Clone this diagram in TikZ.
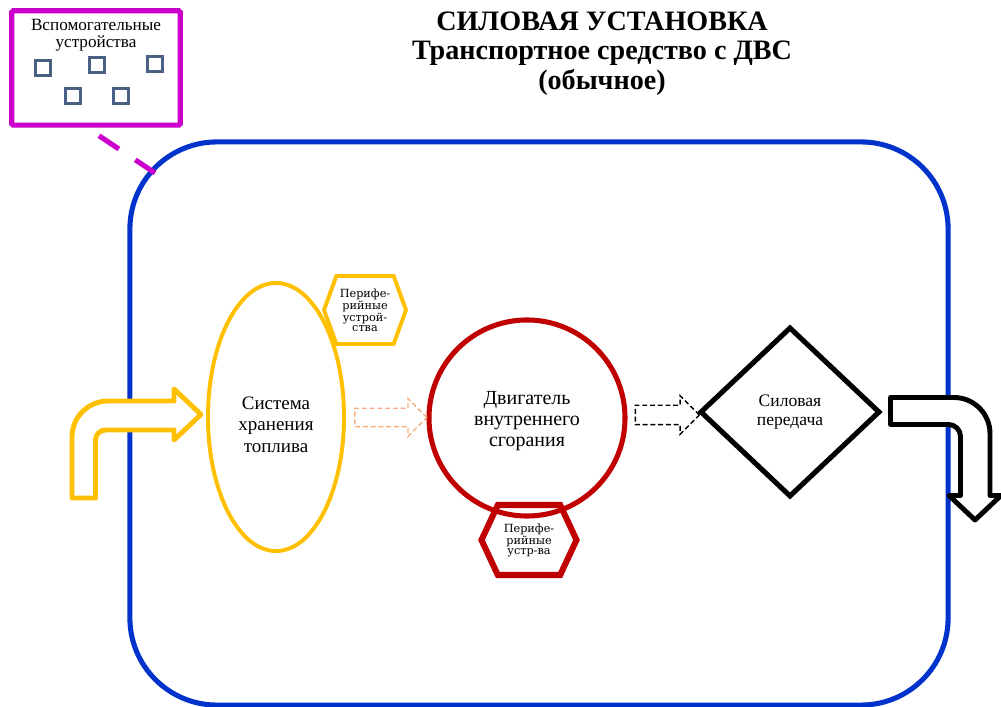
\documentclass[tikz,border=0pt]{standalone}
\usepackage{fontspec}
\setmainfont{Liberation Serif}
\newfontfamily\hexfont{DejaVu Serif}
\usetikzlibrary{shapes.geometric,shapes.arrows,shapes.symbols,calc}
\definecolor{pu_blue}{RGB}{0,51,204}
\definecolor{pu_magenta}{RGB}{204,0,204}
\definecolor{pu_yellow}{RGB}{255,192,0}
\definecolor{pu_red}{RGB}{192,0,0}
\definecolor{pu_orange}{RGB}{244,176,132}
\definecolor{pu_slate}{RGB}{74,96,132}
\tikzstyle{titletext}=[align=center,inner sep=0pt,anchor=north,
  font=\fontsize{20}{21}\selectfont\bfseries]
\tikzstyle{unitbox}=[rectangle,rounded corners=2.175cm,draw=pu_blue,
  line width=3.6pt,minimum width=20.45cm,minimum height=14.075cm]
\tikzstyle{auxbox}=[rectangle,rounded corners=1pt,draw=pu_magenta,
  line width=3.6pt,minimum width=4.21cm,minimum height=2.86cm]
\tikzstyle{auxtext}=[align=center,inner sep=0pt,
  font=\fontsize{12.2}{12}\selectfont]
\tikzstyle{sq}=[rectangle,draw=pu_slate,line width=1.8pt,
  minimum size=0.375cm,inner sep=0pt]
\tikzstyle{auxlink}=[draw=pu_magenta,line width=3.6pt,
  dash pattern=on 17pt off 14pt]
\tikzstyle{fuelnode}=[ellipse,draw=pu_yellow,line width=2.8pt,
  minimum width=3.4cm,minimum height=6.7cm,align=center,
  font=\fontsize{13.5}{15}\selectfont]
\tikzstyle{icenode}=[circle,draw=pu_red,line width=3.6pt,
  minimum size=4.9cm,align=center,font=\fontsize{14.2}{15}\selectfont]
\tikzstyle{transnode}=[diamond,draw=black,line width=3.6pt,
  minimum width=4.5cm,minimum height=4.25cm,align=center,
  font=\fontsize{12.5}{13.5}\selectfont]
\tikzstyle{perhex}=[signal,signal to=east and west,fill=white,
  inner sep=0pt,align=center,font=\hexfont\fontsize{8}{7}\selectfont]
\tikzstyle{flowarrow}=[single arrow,line width=1pt,inner xsep=0pt,
  dash pattern=on 3.5pt off 2pt]
\tikzstyle{inarrow}=[draw=pu_yellow,fill=white,line width=3.5pt,
  line join=round]
\tikzstyle{outarrow}=[draw=black,fill=white,line width=3.5pt,
  line join=round]

\begin{document}
\begin{tikzpicture}[x=0.025cm,y=-0.025cm]
  \useasboundingbox (0,0) rectangle (1001,707);
  \node[titletext] (title) at (602,11.5)
    {СИЛОВАЯ УСТАНОВКА\\Транспортное средство с ДВС\\(обычное)};

  % power unit frame
  \node[unitbox] (unit) at (539,423.5) {};

  % auxiliary devices
  \node[auxbox] (aux) at (96,68) {};
  \node[auxtext] (auxlabel) at (96,35) {Вспомогательные\\устройства};
  \foreach \x/\y [count=\i] in {43/68,97/65,155/64,73/96,121/96}
    \node[sq] (sq\i) at (\x,\y) {};
  \coordinate (auxend) at (155,173);
  \draw[auxlink] ([shift={(3,8)}]aux.south) -- (auxend);

  % peripherals
  \node[perhex,draw=pu_yellow,line width=2.8pt,signal pointer angle=140,
    minimum width=2.05cm,minimum height=1.7cm] (perfuel) at (365,310)
    {Перифе-\\рийные\\устрой-\\ства};
  \node[perhex,draw=pu_red,line width=4.3pt,signal pointer angle=130,
    minimum width=2.375cm,minimum height=1.75cm] (perice) at (529,540)
    {Перифе-\\рийные\\устр-ва};

  % main blocks
  \node[fuelnode] (fuel) at (276,417)
    {\rule{0pt}{20pt}Система\\хранения\\топлива};
  \node[icenode] (ice) at (527,418)
    {\rule{0pt}{14pt}Двигатель\\внутреннего\\сгорания};
  \node[transnode] (trans) at (790,412) {Силовая\\передача};

  \node[flowarrow,draw=pu_orange,inner ysep=0.2125cm,
    single arrow head extend=0.24cm,minimum height=1.8cm]
    (fuel2ice) at ($(fuel.east)!0.5!(ice.west)$) {};
  \node[flowarrow,draw=black,inner ysep=0.225cm,
    single arrow head extend=0.2375cm,minimum height=1.6cm]
    (ice2trans) at ($(ice.east)!0.5!(trans.west)$) {};

  % energy in / out
  \draw[inarrow] (72,498) [rounded corners=0.9cm] -- (72,401) [sharp corners]
    -- (174,401) -- (174,389) -- (201,414.5) -- (174,440) -- (174,430)
    [rounded corners=0.25cm] -- (95.5,430) [sharp corners] -- (95.5,498) -- cycle;
  \draw[outarrow] (890.5,397.5) [rounded corners=0.9cm] -- (990,397.5)
    [sharp corners] -- (990,495.5) -- (1001,495.5) -- (975,520) -- (949,495.5)
    -- (960.5,495.5) [rounded corners=0.3cm] -- (960.5,424.5) [sharp corners]
    -- (890.5,424.5) -- cycle;
\end{tikzpicture}
\end{document}
